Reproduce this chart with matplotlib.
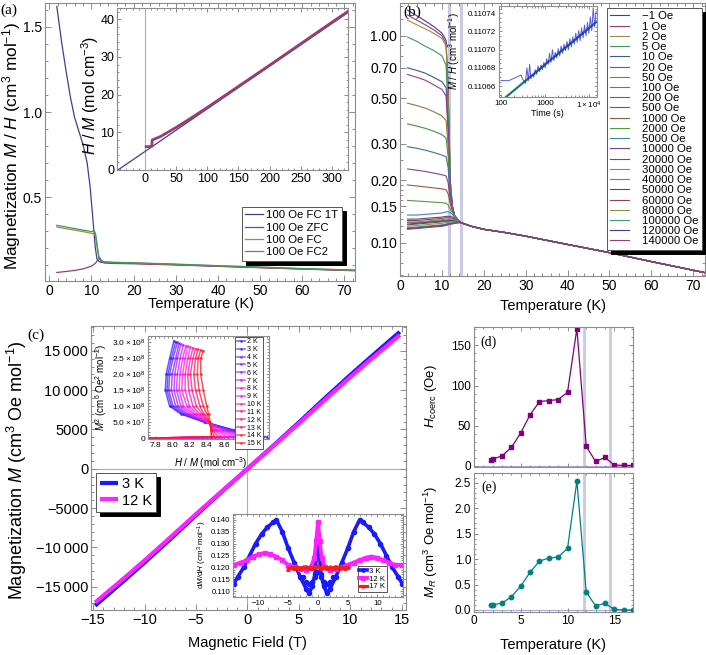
import numpy as np
import matplotlib
matplotlib.use('Agg')
import matplotlib.pyplot as plt
from matplotlib.colors import hsv_to_rgb
from matplotlib.ticker import MultipleLocator, FixedLocator, NullFormatter, FormatStrFormatter

plt.rcParams['font.family'] = ['Liberation Sans', 'DejaVu Sans']
plt.rcParams['mathtext.fontset'] = 'custom'
plt.rcParams['mathtext.rm'] = 'Liberation Sans'
plt.rcParams['mathtext.it'] = 'Liberation Sans:italic'
plt.rcParams['mathtext.bf'] = 'Liberation Sans:bold'

# ---------------- data ----------------
# (a) M/H vs T, 100 Oe
a_labels = ['100 Oe FC 1T', '100 Oe ZFC', '100 Oe FC', '100 Oe FC2']
fc1t_T = [1.8, 3, 4, 5, 6, 7, 8, 9, 9.7, 10.5, 10.9, 11.3, 11.7, 12.2, 13, 15, 20, 30, 40, 50, 60, 72.5]
fc1t = [1.62, 1.40, 1.24, 1.09, 0.97, 0.89, 0.81, 0.70, 0.56, 0.33, 0.21, 0.14, 0.125, 0.118,
        0.116, 0.114, 0.112, 0.104, 0.095, 0.087, 0.079, 0.070]
zfc_T = [1.8, 4, 6, 8, 10, 11, 11.6, 11.9, 12.3, 13, 15, 20, 30, 40, 50, 60, 72.5]
zfc = [0.058, 0.064, 0.070, 0.079, 0.095, 0.113, 0.138, 0.148, 0.132, 0.114, 0.111, 0.109,
       0.102, 0.094, 0.086, 0.078, 0.068]
fc_T = [1.8, 4, 6, 8, 10, 10.6, 11, 11.4, 11.8, 12.3, 13, 15, 20, 30, 40, 50, 60, 72.5]
fc = [0.325, 0.315, 0.307, 0.298, 0.288, 0.285, 0.27, 0.2, 0.14, 0.125, 0.12, 0.117, 0.114,
      0.106, 0.097, 0.089, 0.080, 0.071]
fc2 = [0.335, 0.325, 0.316, 0.307, 0.298, 0.305, 0.285, 0.21, 0.145, 0.126, 0.121, 0.118, 0.115,
       0.107, 0.098, 0.090, 0.081, 0.072]

# (a) inset: H/M vs T and Curie-Weiss line
cw_T = [-43.5, 326]
cw_hm = [0.0, 41.8]
hm_T = [1.8, 5, 9, 11.0, 11.3, 11.8, 15, 25, 50, 75, 100, 150, 200, 250, 300, 326]
hm = [6.2, 6.2, 6.25, 6.3, 7.6, 8.0, 8.2, 8.9, 11.3, 13.9, 16.6, 22.2, 27.8, 33.5, 39.2, 42.1]

# (b) M/H vs T at many fields (log scale)
b_fields = ['\u22121 Oe', '1 Oe', '2 Oe', '5 Oe', '10 Oe', '20 Oe', '50 Oe', '100 Oe', '200 Oe',
            '500 Oe', '1000 Oe', '2000 Oe', '5000 Oe', '10000 Oe', '20000 Oe', '30000 Oe',
            '40000 Oe', '50000 Oe', '60000 Oe', '80000 Oe', '100000 Oe', '120000 Oe', '140000 Oe']
b_T = [1.8, 4, 6, 8, 10, 11, 11.5, 12, 12.5, 13, 14]
b_low = [
    [1.33, 1.25, 1.18, 1.11, 1.03, 0.95, 0.55, 0.20, 0.15, 0.135, 0.128],
    [1.26, 1.19, 1.13, 1.07, 1.00, 0.92, 0.52, 0.20, 0.15, 0.135, 0.128],
    [1.19, 1.13, 1.08, 1.03, 0.97, 0.89, 0.50, 0.19, 0.15, 0.135, 0.128],
    [0.985, 0.94, 0.89, 0.85, 0.80, 0.72, 0.42, 0.19, 0.15, 0.135, 0.128],
    [0.70, 0.68, 0.66, 0.63, 0.60, 0.56, 0.36, 0.18, 0.15, 0.135, 0.128],
    [0.65, 0.63, 0.61, 0.58, 0.55, 0.51, 0.34, 0.18, 0.15, 0.135, 0.128],
    [0.472, 0.46, 0.447, 0.43, 0.41, 0.39, 0.29, 0.17, 0.145, 0.135, 0.128],
    [0.375, 0.366, 0.357, 0.346, 0.333, 0.32, 0.26, 0.17, 0.145, 0.135, 0.128],
    [0.291, 0.286, 0.28, 0.273, 0.265, 0.26, 0.23, 0.165, 0.145, 0.135, 0.128],
    [0.227, 0.224, 0.221, 0.217, 0.213, 0.21, 0.195, 0.16, 0.145, 0.135, 0.128],
    [0.19, 0.188, 0.186, 0.184, 0.182, 0.18, 0.172, 0.155, 0.143, 0.135, 0.128],
    [0.16, 0.159, 0.158, 0.157, 0.156, 0.155, 0.152, 0.145, 0.14, 0.134, 0.128],
    [0.136, 0.136, 0.137, 0.138, 0.139, 0.141, 0.141, 0.14, 0.137, 0.133, 0.128],
    [0.130, 0.130, 0.131, 0.132, 0.133, 0.134, 0.134, 0.134, 0.133, 0.131, 0.127],
    [0.128, 0.128, 0.129, 0.130, 0.131, 0.132, 0.132, 0.132, 0.131, 0.130, 0.127],
    [0.126, 0.126, 0.127, 0.128, 0.129, 0.130, 0.130, 0.130, 0.130, 0.129, 0.127],
    [0.125, 0.125, 0.126, 0.127, 0.128, 0.128, 0.129, 0.129, 0.128, 0.128, 0.126],
    [0.123, 0.124, 0.125, 0.126, 0.127, 0.127, 0.128, 0.128, 0.128, 0.127, 0.126],
    [0.122, 0.123, 0.124, 0.125, 0.126, 0.127, 0.127, 0.127, 0.127, 0.127, 0.126],
    [0.120, 0.121, 0.122, 0.123, 0.124, 0.125, 0.125, 0.126, 0.126, 0.126, 0.125],
    [0.118, 0.119, 0.120, 0.121, 0.122, 0.123, 0.124, 0.124, 0.125, 0.125, 0.125],
    [0.117, 0.118, 0.119, 0.120, 0.121, 0.122, 0.123, 0.123, 0.124, 0.124, 0.125],
    [0.116, 0.117, 0.118, 0.119, 0.120, 0.121, 0.122, 0.123, 0.123, 0.124, 0.125],
]
b_tail_T = [14.5, 17, 20, 25, 30, 40, 50, 60, 72.8]
b_tail = [0.125, 0.120, 0.116, 0.112, 0.1075, 0.098, 0.0895, 0.081, 0.0716]

# (b) inset: relaxation, M/H in units of 1e-6 above 0.1106
relax_t = [100, 150, 288, 310, 330, 360, 390, 420, 450, 480, 520, 560, 600, 650, 700, 760, 820,
           880, 950, 1020, 1100, 1190, 1280, 1380, 1490, 1600, 1730, 1870, 2020, 2180, 2350,
           2540, 2740, 2960, 3200, 3450, 3730, 4030, 4350, 4700, 5070, 5480, 5920, 6390, 6900,
           7450, 8050, 8690, 9390, 10100, 10900, 11800, 12700, 13700, 14800]
relax_mh = [66.1, 65.9, 72.2, 67.5, 66, 63, 80, 66, 84, 68, 73, 70, 78, 73, 82, 76, 83, 78, 86,
            80, 90, 84, 96, 86, 100, 88, 97, 91, 101, 93, 104, 96, 106, 99, 109, 100, 112, 103,
            114, 106, 118, 108, 121, 110, 124, 113, 127, 115, 130, 118, 136, 121, 146, 125, 142]
fit_t = [130, 15500]
fit_mh = [48.0, 131.0]

# (c) M vs H
mh_H = [-14.8, -12, -10, -7.5, -5, -2.5, 0, 2.5, 5, 7.5, 10, 12, 14.8]
mh_3K = [-17400, -14230, -11920, -8950, -5900, -2920, 0, 2920, 5900, 8950, 11920, 14230, 17400]
mh_12K = [-17000, -13920, -11650, -8730, -5760, -2870, 0, 2870, 5760, 8730, 11650, 13920, 17000]
c_yticks = [-15000, -10000, -5000, 0, 5000, 10000, 15000]
c_yticklabels = ['\u221215\u2009000', '\u221210\u2009000', '\u22125000', '0', '5000',
                 '10\u2009000', '15\u2009000']

# (c) inset: Arrott plot, M^2 in 1e8 units
arrott_labels = ['%d K' % t for t in range(2, 16)]
arrott_start = 7.7
arrott_m2 = [0.03, 0.25, 0.5, 0.75, 1.0, 1.5, 2.0, 2.5]
arrott_hm = [
    [9.10, 8.72, 8.37, 8.10, 7.97, 7.92, 7.93, 7.97],
    [9.05, 8.70, 8.38, 8.12, 7.99, 7.94, 7.95, 7.99],
    [9.00, 8.68, 8.38, 8.14, 8.01, 7.96, 7.97, 8.01],
    [8.94, 8.65, 8.39, 8.16, 8.04, 7.99, 8.00, 8.04],
    [8.88, 8.62, 8.40, 8.18, 8.07, 8.02, 8.03, 8.06],
    [8.82, 8.59, 8.40, 8.21, 8.10, 8.05, 8.06, 8.09],
    [8.76, 8.56, 8.41, 8.24, 8.13, 8.08, 8.09, 8.12],
    [8.70, 8.53, 8.41, 8.26, 8.17, 8.11, 8.12, 8.15],
    [8.64, 8.51, 8.42, 8.29, 8.20, 8.15, 8.15, 8.18],
    [8.58, 8.49, 8.42, 8.32, 8.24, 8.19, 8.18, 8.21],
    [8.53, 8.47, 8.42, 8.35, 8.28, 8.23, 8.21, 8.24],
    [8.49, 8.46, 8.43, 8.37, 8.32, 8.27, 8.25, 8.27],
    [8.46, 8.45, 8.43, 8.40, 8.36, 8.31, 8.29, 8.30],
    [8.45, 8.45, 8.44, 8.42, 8.40, 8.36, 8.33, 8.33],
]
arrott_top_hm = [8.02, 8.04, 8.06, 8.08, 8.10, 8.13, 8.16, 8.18, 8.21, 8.24, 8.27, 8.30, 8.33, 8.36]
arrott_top_m2 = [3.05, 3.02, 3.00, 2.97, 2.95, 2.93, 2.90, 2.88, 2.85, 2.83, 2.80, 2.78, 2.76, 2.74]
arrott_xticks = [7.8, 8.0, 8.2, 8.4, 8.6, 8.8]

# (c) inset: dM/dH vs H
dm3_H = [-14.2, -13.5, -12.5, -11.5, -10.5, -9.5, -8.5, -7.5, -7.0, -6.0, -5.0, -4.0, -3.0, -2.0,
         -1.5, -1.0, -0.5, 0, 0.5, 1.0, 1.5, 2.0, 3.0, 4.0, 5.0, 6.0, 7.0, 7.5, 8.5, 9.5, 10.5,
         11.5, 12.5, 13.5, 14.2]
dm3 = [0.113, 0.116, 0.120, 0.125, 0.130, 0.134, 0.137, 0.139, 0.140, 0.135, 0.128, 0.122, 0.116,
       0.111, 0.109, 0.112, 0.117, 0.134, 0.117, 0.112, 0.109, 0.111, 0.116, 0.122, 0.128, 0.135,
       0.140, 0.139, 0.137, 0.134, 0.130, 0.125, 0.120, 0.116, 0.113]
dm3b_H = [-2.5, -2.0, -1.5, -1.0, -0.5, 0, 0.5, 1.0, 1.5, 2.0, 2.5]
dm3b = [0.116, 0.114, 0.113, 0.114, 0.116, 0.118, 0.116, 0.114, 0.113, 0.114, 0.116]
dm12_H = [-14.2, -13, -12, -11, -10, -9, -8, -7, -6, -5, -4, -3, -2, -1.2, -0.6, -0.3, 0, 0.3, 0.6,
          1.2, 2, 3, 4, 5, 6, 7, 8, 9, 10, 11, 12, 13, 14.2]
dm12 = [0.121, 0.122, 0.123, 0.1245, 0.1255, 0.126, 0.1255, 0.1245, 0.123, 0.121, 0.120, 0.1195,
        0.119, 0.120, 0.124, 0.131, 0.139, 0.131, 0.124, 0.120, 0.119, 0.1195, 0.120, 0.121, 0.122,
        0.123, 0.124, 0.1245, 0.124, 0.123, 0.122, 0.121, 0.121]
dm17_H = [-5, -4.5, -4, -3.5, -3, -2.5, -2, -1.5, -1, -0.5, 0, 0.5, 1, 1.5, 2, 2.5, 3, 3.5, 4, 4.5, 5]
dm17 = [0.1195, 0.1200, 0.1198, 0.1202, 0.1196, 0.1200, 0.1203, 0.1197, 0.1199, 0.1201, 0.1205,
        0.1198, 0.1202, 0.1196, 0.1200, 0.1199, 0.1203, 0.1197, 0.1201, 0.1199, 0.1200]

# (d), (e) coercive field and remanence
de_T = [1.8, 2, 3, 4, 5, 6, 7, 8, 9, 10, 11, 12, 13, 14, 15, 16, 17]
hcoerc = [7.5, 8.3, 12.5, 22.9, 41, 63.7, 80, 81.3, 82.5, 91.7, 171, 24.2, 5.4, 10.4, 0.9, 0.5, 0.5]
mrem = [0.096, 0.10, 0.135, 0.26, 0.47, 0.74, 0.96, 1.02, 1.04, 1.21, 2.53, 0.35, 0.08, 0.13, 0.01, 0.0, 0.0]

# ---------------- figure ----------------
W, H = 706, 655
fig = plt.figure(figsize=(W / 100, H / 100), dpi=100)


def box(x0, y0, x1, y1):
    return [x0 / W, 1 - y1 / H, (x1 - x0) / W, (y1 - y0) / H]


def ftext(x, y, s, **kw):
    fig.text(x / W, 1 - y / H, s, ha='center', va='center', **kw)


def style(ax, fs, big=4, small=2):
    for s in ax.spines.values():
        s.set_color('#8c8c8c')
        s.set_linewidth(0.8)
    ax.tick_params(which='both', direction='in', top=True, right=True, color='#8c8c8c',
                   labelsize=fs, width=0.7, pad=2)
    ax.tick_params(which='major', length=big)
    ax.tick_params(which='minor', length=small)


def mhue(i):
    return hsv_to_rgb(((0.67 + 0.238068 * i) % 1.0, 0.6, 0.6))


def legend(ax, x, y, loc, fs, **kw):
    opts = dict(loc=loc, bbox_to_anchor=(x / W, 1 - y / H), bbox_transform=fig.transFigure,
                fontsize=fs, frameon=True, fancybox=False, edgecolor='#555555', framealpha=1,
                borderaxespad=0)
    opts.update(kw)
    leg = ax.legend(**opts)
    leg.get_frame().set_linewidth(0.7)
    return leg


shadow = {'color': 'black', 'alpha': 1, 'ox': 3, 'oy': -3}
axis_line = '#a8a8d4'
vline = '#c9c9e2'
serif = 'Liberation Serif'

# (a)
axa = fig.add_axes(box(45, 3, 355, 281))
style(axa, 10)
for i, (T, v) in enumerate([(fc1t_T, fc1t), (zfc_T, zfc), (fc_T, fc), (fc_T, fc2)]):
    axa.plot(T, v, color=mhue(i), lw=0.9, label=a_labels[i])
axa.set_xlim(-1, 72.5)
axa.set_ylim(0.008, 1.64)
axa.xaxis.set_major_locator(MultipleLocator(10))
axa.xaxis.set_minor_locator(MultipleLocator(2))
axa.yaxis.set_major_locator(MultipleLocator(0.5))
axa.yaxis.set_minor_locator(MultipleLocator(0.1))
legend(axa, 242, 207, 'upper left', 8.2, labelspacing=0.2, handlelength=1.5, handletextpad=0.35,
       borderpad=0.3, shadow=shadow)
ftext(12, 146, 'Magnetization $M$ / $H$ (cm$^3$ mol$^{-1}$)', fontsize=12.4, rotation=90)
ftext(201, 304, 'Temperature (K)', fontsize=10.5)
ftext(9, 10, '(a)', fontsize=11, family=serif)

axai = fig.add_axes(box(117, 8, 348, 170))
style(axai, 9, 3, 1.5)
axai.axvline(0, color=axis_line, lw=0.8)
axai.plot(cw_T, cw_hm, color=mhue(0), lw=0.9)
axai.plot(hm_T, hm, color=mhue(1), lw=2)
axai.set_xlim(-45, 326)
axai.set_ylim(0, 43)
axai.xaxis.set_major_locator(MultipleLocator(50))
axai.xaxis.set_minor_locator(MultipleLocator(10))
axai.yaxis.set_major_locator(MultipleLocator(10))
axai.yaxis.set_minor_locator(MultipleLocator(2))
ftext(90, 95, '$H$ / $M$ (mol cm$^{-3}$)', fontsize=11.5, rotation=90)

# (b)
axb = fig.add_axes(box(400, 3, 705, 276))
style(axb, 10)
axb.axvline(11.8, color=vline, lw=2.2, zorder=1)
axb.axvline(14.5, color=vline, lw=2.2, zorder=1)
for i, lab in enumerate(b_fields):
    axb.plot(b_T + b_tail_T, b_low[i] + b_tail, color=mhue(i), lw=0.8, label=lab)
axb.set_yscale('log')
axb.set_xlim(0, 72.8)
axb.set_ylim(0.069, 1.44)
axb.xaxis.set_major_locator(MultipleLocator(10))
axb.xaxis.set_minor_locator(MultipleLocator(2))
b_yt = [0.10, 0.15, 0.20, 0.30, 0.50, 0.70, 1.00]
axb.yaxis.set_major_locator(FixedLocator(b_yt))
axb.set_yticklabels(['%.2f' % v for v in b_yt])
axb.yaxis.set_minor_locator(FixedLocator([0.07, 0.08, 0.09, 0.11, 0.12, 0.13, 0.14, 0.16, 0.17,
                                          0.18, 0.19, 0.25, 0.4, 0.6, 0.8, 0.9, 1.2, 1.4]))
axb.yaxis.set_minor_formatter(NullFormatter())
legend(axb, 607, 8, 'upper left', 8.2, labelspacing=0.02, handlelength=1.6, handletextpad=1.2,
       borderpad=0.3, shadow=shadow)
ftext(553, 306, 'Temperature (K)', fontsize=10.5)
ftext(412, 12, '(b)', fontsize=11, family=serif)

axbi = fig.add_axes(box(499, 6, 597, 97))
style(axbi, 5.8, 2.5, 1.2)
axbi.plot(fit_t, [0.1106 + v * 1e-6 for v in fit_mh], color='#1f7a70', lw=1.6, zorder=2)
axbi.plot(relax_t, [0.1106 + v * 1e-6 for v in relax_mh], color='#2020d8', lw=0.7, alpha=0.75,
          zorder=3)
axbi.set_xscale('log')
axbi.set_xlim(90, 15500)
axbi.set_ylim(0.110648, 0.110748)
axbi.xaxis.set_major_locator(FixedLocator([100, 1000, 10000]))
axbi.set_xticklabels(['100', '1000', r'$1\times10^4$'])
axbi.xaxis.set_minor_formatter(NullFormatter())
bi_yt = [0.11066, 0.11068, 0.11070, 0.11072, 0.11074]
axbi.yaxis.set_major_locator(FixedLocator(bi_yt))
axbi.set_yticklabels(['%.5f' % v for v in bi_yt])
axbi.yaxis.set_minor_locator(MultipleLocator(0.000005))
ftext(454, 51, '$M$ / $H$ (cm$^3$ mol$^{-1}$)', fontsize=7, rotation=90)
ftext(547, 113, 'Time (s)', fontsize=6.5)

# (c)
axc = fig.add_axes(box(91, 326, 406, 610))
style(axc, 10.5)
axc.axhline(0, color=axis_line, lw=0.8, zorder=1)
axc.axvline(0, color=axis_line, lw=0.8, zorder=1)
axc.plot(mh_H, mh_3K, color='#1a1aff', lw=3, label='3 K', solid_capstyle='butt')
axc.plot(mh_H, mh_12K, color='#ff22ff', lw=3, label='12 K', solid_capstyle='butt')
axc.set_xlim(-15.2, 15.4)
axc.set_ylim(-17950, 18150)
axc.xaxis.set_major_locator(MultipleLocator(5))
axc.xaxis.set_minor_locator(MultipleLocator(1))
axc.yaxis.set_major_locator(FixedLocator(c_yticks))
axc.set_yticklabels(c_yticklabels)
axc.yaxis.set_minor_locator(MultipleLocator(1000))
legend(axc, 96, 473, 'upper left', 10.5, labelspacing=0.15, handlelength=1.2, handletextpad=0.25,
       borderpad=0.3, shadow=shadow)
ftext(17, 470, 'Magnetization $M$ (cm$^3$ Oe mol$^{-1}$)', fontsize=13, rotation=90)
ftext(247, 643, 'Magnetic Field (T)', fontsize=10.5)
ftext(36, 335, '(c)', fontsize=11, family=serif)

# (c) top inset: Arrott plot
axc1 = fig.add_axes(box(148, 336, 269, 439))
style(axc1, 6, 2.5, 1.2)
blend = [(0.15, 0.15, 1.0), (1.0, 0.1, 1.0), (1.0, 0.1, 0.1)]
for i, lab in enumerate(arrott_labels):
    f = i / (len(arrott_labels) - 1)
    if f < 0.5:
        c0, c1, g = blend[0], blend[1], f / 0.5
    else:
        c0, c1, g = blend[1], blend[2], (f - 0.5) / 0.5
    col = tuple(a + (b - a) * g for a, b in zip(c0, c1))
    xs = [arrott_start] + arrott_hm[i] + [arrott_top_hm[i]]
    ys = [0.0] + arrott_m2 + [arrott_top_m2[i]]
    axc1.plot(xs, [v * 1e8 for v in ys], color=col, lw=1.1, alpha=0.75, marker='.', ms=1.8,
              label=lab)
axc1.set_xlim(7.72, 9.12)
axc1.set_ylim(-0.03e8, 3.2e8)
axc1.xaxis.set_major_locator(FixedLocator(arrott_xticks))
axc1.xaxis.set_major_formatter(FormatStrFormatter('%.1f'))
axc1.xaxis.set_minor_locator(MultipleLocator(0.05))
c1_yt = [0, 0.5e8, 1.0e8, 1.5e8, 2.0e8, 2.5e8, 3.0e8]
axc1.yaxis.set_major_locator(FixedLocator(c1_yt))
axc1.set_yticklabels(['0', r'$5.0\times10^7$', r'$1.0\times10^8$', r'$1.5\times10^8$',
                      r'$2.0\times10^8$', r'$2.5\times10^8$', r'$3.0\times10^8$'])
axc1.yaxis.set_minor_locator(MultipleLocator(0.1e8))
legend(axc1, 263, 337, 'upper right', 5.0, labelspacing=0.12, handlelength=1.2, handletextpad=0.3,
       borderpad=0.2)
ftext(101, 387, '$M^2$ (cm$^6$ Oe$^2$ mol$^{-2}$)', fontsize=7, rotation=90)
ftext(211, 463, '$H$ / $M$ (mol cm$^{-3}$)', fontsize=7)

# (c) bottom inset: dM/dH
axc2 = fig.add_axes(box(233, 514, 403, 597))
style(axc2, 5.6, 2.5, 1.2)
axc2.plot(dm3_H, dm3, color='#1a1aff', lw=2.6, marker='o', ms=3, label='3 K')
axc2.plot(dm3b_H, dm3b, color='#1a1aff', lw=0, marker='o', ms=3)
axc2.plot(dm12_H, dm12, color='#ff22ff', lw=2.8, marker='s', ms=3, label='12 K')
axc2.plot(dm17_H, dm17, color='#ff1a1a', lw=2.2, marker='^', ms=2.5, label='17 K')
axc2.set_xlim(-14.3, 14.3)
axc2.set_ylim(0.1075, 0.1425)
axc2.xaxis.set_major_locator(MultipleLocator(5))
axc2.xaxis.set_minor_locator(MultipleLocator(1))
axc2.yaxis.set_major_locator(MultipleLocator(0.005))
axc2.yaxis.set_minor_locator(MultipleLocator(0.001))
axc2.yaxis.set_major_formatter(FormatStrFormatter('%.3f'))
legend(axc2, 387, 592, 'lower right', 5.6, labelspacing=0.05, handlelength=1.0, handletextpad=0.3,
       borderpad=0.2, markerscale=0.8)
ftext(202, 555, 'd$M$/d$H$ (cm$^3$ mol$^{-1}$)', fontsize=5.8, rotation=90)

# (d)
axd = fig.add_axes(box(474, 327, 633, 467))
style(axd, 8.5, 3, 1.5)
axd.axvline(11.8, color=vline, lw=2, zorder=1)
axd.axvline(14.5, color=vline, lw=2, zorder=1)
axd.axhline(0, color=axis_line, lw=0.8, zorder=1)
axd.plot(de_T, hcoerc, color='#800080', lw=0.9, marker='s', ms=3.2)
axd.set_xlim(0, 17)
axd.set_ylim(-1.5, 173)
axd.xaxis.set_major_locator(MultipleLocator(5))
axd.xaxis.set_minor_locator(MultipleLocator(1))
axd.yaxis.set_major_locator(MultipleLocator(50))
axd.yaxis.set_minor_locator(MultipleLocator(10))
axd.tick_params(labelbottom=False)
ftext(431, 396, r'$H_{\rm coerc}$ (Oe)', fontsize=9.5, rotation=90)
ftext(489, 342, '(d)', fontsize=10, family=serif)

# (e)
axe = fig.add_axes(box(474, 473, 633, 612))
style(axe, 8.5, 3, 1.5)
axe.axvline(11.8, color=vline, lw=2, zorder=1)
axe.axvline(14.5, color=vline, lw=2, zorder=1)
axe.axhline(0, color=axis_line, lw=0.8, zorder=1)
axe.plot(de_T, mrem, color='#008080', lw=0.9, marker='o', ms=3.2)
axe.set_xlim(0, 17)
axe.set_ylim(-0.04, 2.69)
axe.xaxis.set_major_locator(MultipleLocator(5))
axe.xaxis.set_minor_locator(MultipleLocator(1))
axe.yaxis.set_major_locator(MultipleLocator(0.5))
axe.yaxis.set_minor_locator(MultipleLocator(0.1))
axe.yaxis.set_major_formatter(FormatStrFormatter('%.1f'))
ftext(431, 542, '$M_R$ (cm$^3$ Oe mol$^{-1}$)', fontsize=9.5, rotation=90)
ftext(553, 645, 'Temperature (K)', fontsize=10.5)
ftext(489, 487, '(e)', fontsize=10, family=serif)

fig.savefig('out.png', dpi=100)
